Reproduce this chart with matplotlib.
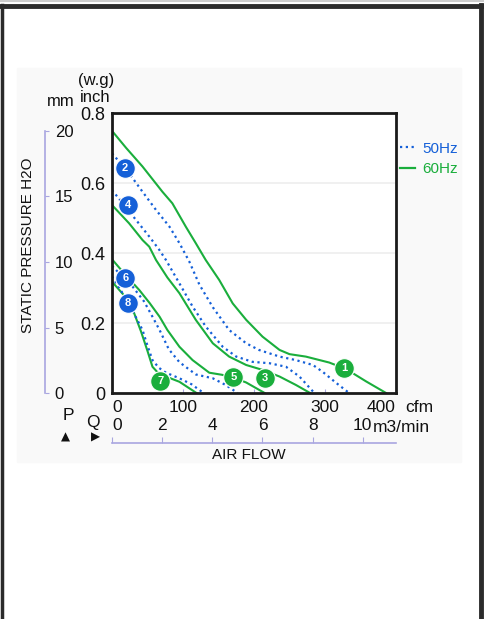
import numpy as np
import matplotlib.pyplot as plt
from matplotlib.lines import Line2D
from matplotlib.patches import Rectangle

plt.rcParams['font.family'] = ['Liberation Sans', 'DejaVu Sans']

# P-Q curves, x in cfm, y in inch H2O
c1_x = [0, 20, 43, 71, 85, 104, 118, 132, 151, 170, 189, 212, 236, 250, 273, 306, 330, 358, 386]
c1_y = [0.749, 0.700, 0.647, 0.575, 0.542, 0.475, 0.428, 0.380, 0.323, 0.256, 0.209, 0.161, 0.123, 0.111, 0.104, 0.087, 0.068, 0.033, 0.0]
c2_x = [0, 24, 43, 62, 81, 95, 109, 123, 142, 165, 189, 207, 236, 259, 283, 297, 315, 334]
c2_y = [0.685, 0.628, 0.575, 0.523, 0.475, 0.428, 0.375, 0.310, 0.245, 0.180, 0.142, 0.123, 0.104, 0.094, 0.080, 0.060, 0.030, 0.0]
c3_x = [0, 24, 43, 52.5, 62, 78, 95, 118, 142, 165, 189, 212, 236, 259, 279]
c3_y = [0.537, 0.485, 0.437, 0.418, 0.380, 0.330, 0.285, 0.209, 0.142, 0.104, 0.080, 0.066, 0.047, 0.023, 0.0]
c4_x = [0, 34, 52.5, 66.6, 76, 95, 113.5, 132, 156, 175, 198, 222, 245, 264, 285]
c4_y = [0.580, 0.494, 0.447, 0.409, 0.380, 0.313, 0.247, 0.190, 0.132, 0.104, 0.089, 0.085, 0.075, 0.047, 0.0]
c5_x = [0, 20, 38.5, 53, 67, 78, 95, 113.5, 137, 155, 170, 189, 215]
c5_y = [0.382, 0.335, 0.294, 0.257, 0.218, 0.180, 0.132, 0.094, 0.058, 0.052, 0.045, 0.030, 0.0]
c6_x = [0, 29, 45, 57, 67, 80, 95, 118, 142, 160, 177]
c6_y = [0.363, 0.304, 0.262, 0.218, 0.180, 0.125, 0.088, 0.053, 0.042, 0.023, 0.0]
c7_x = [0, 20, 29, 41, 50, 57, 66, 76, 95, 119]
c7_y = [0.318, 0.272, 0.240, 0.175, 0.120, 0.075, 0.055, 0.047, 0.032, 0.0]
c8_x = [0, 24, 34, 43, 50, 57, 66, 76, 95, 112, 129]
c8_y = [0.333, 0.256, 0.215, 0.180, 0.135, 0.094, 0.072, 0.058, 0.042, 0.025, 0.0]

curves_60 = [(c1_x, c1_y), (c3_x, c3_y), (c5_x, c5_y), (c7_x, c7_y)]
curves_50 = [(c2_x, c2_y), (c4_x, c4_y), (c6_x, c6_y), (c8_x, c8_y)]

# numbered badges: (label, cfm, inch, hz)
badges = [("1", 327, 0.071, 60), ("2", 18, 0.644, 50), ("3", 215, 0.044, 60),
          ("4", 22, 0.537, 50), ("5", 171, 0.047, 60), ("6", 19, 0.328, 50),
          ("7", 68, 0.034, 60), ("8", 22, 0.258, 50)]

cfm_ticks = [0, 100, 200, 300, 400]
cfm_labels = ["0", "100", "200", "300", "400"]
m3_ticks = [0, 2, 4, 6, 8, 10]
inch_ticks = [0, 0.2, 0.4, 0.6, 0.8]
inch_labels = ["0", "0.2", "0.4", "0.6", "0.8"]
mm_ticks = [0, 5, 10, 15, 20]

GREEN = "#1aae3c"
BLUE = "#1560d8"
LAV = "#a9a6e0"
INK = "#111111"

W, H = 485, 619
fig = plt.figure(figsize=(W / 100, H / 100), dpi=100)

def fx(px):
    return px / W

def fy(py):
    return 1 - py / H

# page frame and light panel
fig.patches.append(Rectangle((fx(17), fy(462)), fx(461) - fx(17), fy(68) - fy(462),
                             transform=fig.transFigure, color="#f9f9f9", zorder=-5))
fig.add_artist(Line2D([0, 1], [fy(5.5), fy(5.5)], color="#2b2b2b", lw=3.5))
fig.add_artist(Line2D([0, 1], [fy(1), fy(1)], color="#cccccc", lw=1.5))
fig.add_artist(Line2D([fx(1.8), fx(1.8)], [0, fy(5)], color="#2b2b2b", lw=2.5))
fig.add_artist(Line2D([fx(481), fx(481)], [0, fy(5)], color="#2b2b2b", lw=3.5))

# main plot
ax = fig.add_axes([fx(112), fy(393), fx(396) - fx(112), fy(113) - fy(393)])
ax.set_facecolor("white")
ax.set_xlim(0, 400)
ax.set_ylim(0, 0.8)
for y in inch_ticks[1:-1]:
    ax.axhline(y, color="#eeeeee", lw=1.2, zorder=0)

for cx, cy in curves_60:
    ax.plot(cx, cy, color=GREEN, lw=1.5, zorder=2)
for cx, cy in curves_50:
    ax.plot(cx, cy, color=BLUE, lw=1.6, ls=(0, (1, 1.6)), zorder=2)

for lab, bx, by, hz in badges:
    col = GREEN if hz == 60 else BLUE
    ax.scatter([bx], [by], s=200, color=col, edgecolor="white", linewidth=0.8, zorder=4)
    ax.text(bx, by, lab, color="white", fontsize=8, fontweight="bold",
            ha="center", va="center", zorder=5)

for s in ax.spines.values():
    s.set_linewidth(2)
    s.set_color("#1a1a1a")
ax.set_xticks(cfm_ticks)
ax.set_xticklabels(cfm_labels, fontsize=12.5, color=INK)
ax.set_yticks(inch_ticks)
ax.set_yticklabels(inch_labels, fontsize=13, color=INK)
ax.tick_params(axis="x", direction="in", length=3, color=LAV, pad=5)
ax.tick_params(axis="y", length=0, pad=5)
xl = ax.get_xticklabels()
xl[0].set_ha("left")
xl[-1].set_ha("right")
fig.text(fx(405), fy(407), "cfm", fontsize=12.5, color=INK, ha="left", va="center")

# mm scale on the far left
axm = fig.add_axes([fx(45), fy(393), 0.0001, fy(131) - fy(393)])
axm.patch.set_alpha(0)
axm.set_ylim(0, 20)
axm.set_xticks([])
for k in ["top", "bottom", "left"]:
    axm.spines[k].set_visible(False)
axm.spines["right"].set_color(LAV)
axm.spines["right"].set_linewidth(1.2)
axm.yaxis.tick_right()
axm.set_yticks(mm_ticks)
axm.set_yticklabels([str(t) for t in mm_ticks], fontsize=12, color=INK)
axm.tick_params(axis="y", direction="out", length=3, color=LAV, pad=4)

# m3/min flow scale under the plot
axq = fig.add_axes([fx(112), fy(443), fx(396) - fx(112), 0.0001])
axq.patch.set_alpha(0)
axq.set_xlim(0, 400 * 0.0283168)
axq.set_yticks([])
for k in ["bottom", "left", "right"]:
    axq.spines[k].set_visible(False)
axq.spines["top"].set_color(LAV)
axq.spines["top"].set_linewidth(1.2)
axq.xaxis.tick_top()
axq.set_xticks(m3_ticks)
axq.set_xticklabels([str(t) for t in m3_ticks], fontsize=12.5, color=INK)
axq.tick_params(axis="x", direction="out", length=4, color=LAV, pad=3)
axq.get_xticklabels()[0].set_ha("left")
axq.get_xticklabels()[-1].set_x(9.9)
fig.text(fx(373), fy(428), "m3/min", fontsize=12.5, color=INK, ha="left", va="center")

# axis titles and headers
fig.text(fx(249), fy(455), "AIR FLOW", fontsize=11, color=INK, ha="center", va="center")
fig.text(fx(28), fy(245), "STATIC PRESSURE H2O", fontsize=11, color=INK,
         rotation=90, ha="center", va="center")
fig.text(fx(96), fy(81), "(w.g)", fontsize=12, color=INK, ha="center", va="center")
fig.text(fx(95), fy(97), "inch", fontsize=12, color=INK, ha="center", va="center")
fig.text(fx(61), fy(101), "mm", fontsize=12, color=INK, ha="center", va="center")
fig.text(fx(68), fy(415), "P", fontsize=12.5, color=INK, ha="center", va="center")
fig.text(fx(65), fy(437), "\u25b2", fontsize=8.5, color=INK, ha="center", va="center",
         family=["DejaVu Sans"])
fig.text(fx(93), fy(423), "Q", fontsize=12.5, color=INK, ha="center", va="center")
fig.text(fx(95), fy(437), "\u25b6", fontsize=8.5, color=INK, ha="center", va="center",
         family=["DejaVu Sans"])

# legend
handles = [Line2D([], [], color=BLUE, lw=1.6, ls=(0, (1, 1.6))),
           Line2D([], [], color=GREEN, lw=1.6)]
leg = fig.legend(handles, ["50Hz", "60Hz"], loc="center left",
                 bbox_to_anchor=(fx(400), fy(159)), frameon=False, fontsize=11,
                 handlelength=1.0, handletextpad=0.45, labelspacing=0.45,
                 borderpad=0, borderaxespad=0)
for t, c in zip(leg.get_texts(), [BLUE, GREEN]):
    t.set_color(c)

fig.savefig("out.png", dpi=100, facecolor="white")
